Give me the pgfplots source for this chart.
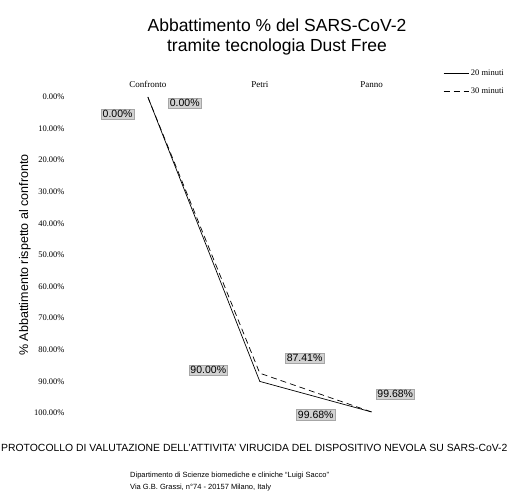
\documentclass[border=0pt]{standalone}
\usepackage{fontspec}
\setmainfont{Liberation Sans}
\newfontfamily\serifx{Liberation Serif}
\usepackage{pgfplots}
\pgfplotsset{compat=1.18}
\tikzset{lbl/.style={fill=gray!35, draw=gray!70, inner sep=1.5pt, font=\fontsize{10.5}{11}\selectfont}}
\begin{document}
\begin{tikzpicture}[x=1pt,y=1pt]
\path[use as bounding box] (0,0) rectangle (529,499);
\node[font=\fontsize{17.5}{20}\selectfont, align=center] at (277,462) {Abbattimento \% del SARS-CoV-2\\tramite tecnologia Dust Free};
\begin{axis}[
  at={(65pt,86pt)}, anchor=south west, scale only axis,
  width=375pt, height=316pt,
  xmin=-0.74, xmax=2.61, ymin=0, ymax=100, y dir=reverse,
  separate axis lines, axis line style={draw=none},
  major tick length=0pt,
  xtick={0,1,2}, xticklabels={Confronto,Petri,Panno}, xticklabel pos=top,
  xticklabel style={yshift=6pt, font=\serifx\fontsize{9}{10}\selectfont},
  ytick={0,10,...,100},
  yticklabels={0.00\%,10.00\%,20.00\%,30.00\%,40.00\%,50.00\%,60.00\%,70.00\%,80.00\%,90.00\%,100.00\%},
  yticklabel style={xshift=3pt, font=\serifx\fontsize{8.5}{9}\selectfont},
  ylabel={\% Abbattimento rispetto al confronto},
  ylabel style={at={(axis description cs:-0.107,0.5)}, anchor=center, font=\fontsize{12.5}{13}\selectfont},
  legend style={at={(axis description cs:1.0,1.1)}, anchor=north west, draw=none, fill=none,
    font=\serifx\fontsize{8.5}{9}\selectfont, row sep=7pt},
  legend cell align=left,
  legend image code/.code={\draw[#1] (0pt,0pt) -- (25pt,0pt);},
  clip=false,
]
\addplot[black, line width=0.7pt] coordinates {(0,0) (1,90) (2,99.68)};
\addlegendentry{20 minuti}
\addplot[black, line width=0.7pt, dash pattern=on 6pt off 4pt] coordinates {(0,0) (1,87.41) (2,99.68)};
\addlegendentry{30 minuti}
\node[lbl] at (axis cs:-0.27,5.4) {0.00\%};
\node[lbl] at (axis cs:0.33,1.9) {0.00\%};
\node[lbl] at (axis cs:0.54,86.4) {90.00\%};
\node[lbl] at (axis cs:1.40,82.6) {87.41\%};
\node[lbl] at (axis cs:1.50,100.6) {99.68\%};
\node[lbl] at (axis cs:2.21,94.0) {99.68\%};
\end{axis}
\node[anchor=west, inner sep=0pt, font=\fontsize{10.4}{12}\selectfont] at (1,51) {PROTOCOLLO DI VALUTAZIONE DELL'ATTIVITA' VIRUCIDA DEL DISPOSITIVO NEVOLA SU SARS-CoV-2};
\node[anchor=west, inner sep=0pt, font=\fontsize{7.5}{8}\selectfont] at (130,23) {Dipartimento di Scienze biomediche e cliniche ``Luigi Sacco''};
\node[anchor=west, inner sep=0pt, font=\fontsize{7.5}{8}\selectfont] at (130,11) {Via G.B. Grassi, n°74 - 20157 Milano, Italy};
\end{tikzpicture}
\end{document}
